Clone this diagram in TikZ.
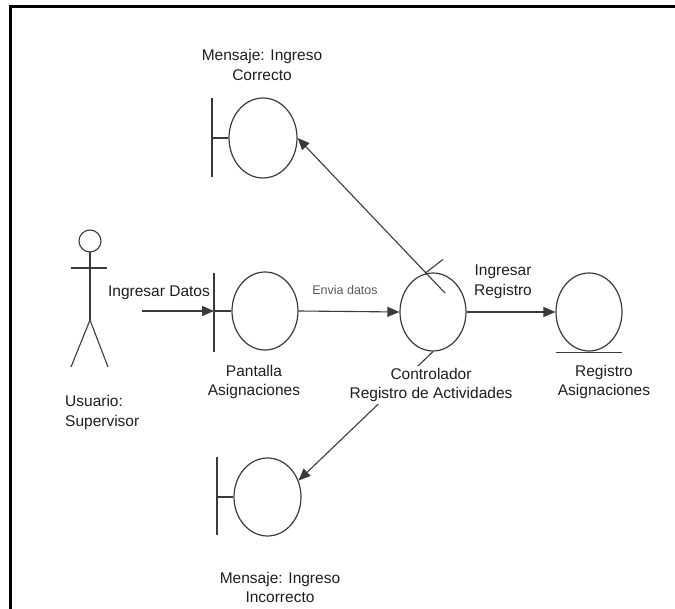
\documentclass[tikz,border=0pt]{standalone}
\usepackage{fontspec}
\setmainfont{Liberation Sans}
\usetikzlibrary{arrows.meta,shapes.geometric,calc}
\definecolor{ink}{HTML}{3A3A3A}
\definecolor{txt}{HTML}{1E1E1E}
\tikzset{
  robust/.style={ellipse, draw=ink, line width=1.2pt, minimum width=66pt, minimum height=78pt, inner sep=0pt},
  conn/.style={draw=ink, line width=1.1pt},
  arr/.style={conn, -{Triangle[length=12pt,width=10pt]}},
  lbl/.style={font=\fontsize{15.5}{19.5}\selectfont, text=txt, align=center, inner sep=1pt},
  smalllbl/.style={font=\fontsize{12.5}{15}\selectfont, text=black!65, inner sep=1pt},
  frame/.style={line width=3pt, draw=black}
}
\begin{document}
\begin{tikzpicture}[x=1pt, y=-1pt]
\useasboundingbox (0,0) rectangle (675,609);
% outer frame (top and left edges)
\draw[frame] (675,7) -- (10.5,7) -- (10.5,609);

% actor
\coordinate (actor) at (90,241);
\draw[conn] (actor) ellipse [x radius=11, y radius=11];
\draw[conn] ($(actor)+(-19,27)$) -- ($(actor)+(17,27)$);
\draw[conn] ($(actor)+(0,11)$) -- ($(actor)+(0,79)$) coordinate (hip);
\draw[conn] ($(hip)+(-19,47)$) -- (hip) -- ($(hip)+(18,47)$);
\node[lbl, align=left, anchor=west] (actorlbl) at (64,412.5) {Usuario:\\Supervisor};

% boundary: Pantalla Asignaciones
\node[robust] (pantalla) at (265,311) {};
\coordinate (pbar) at (214,311);
\draw[conn] ($(pbar)+(0,-38)$) -- ($(pbar)+(0,41)$);
\draw[conn] (pbar) -- (pantalla.west);
\node[lbl] (pantallalbl) at (254,382) {Pantalla\\Asignaciones};

% boundary: message ok
\node[robust, minimum width=68pt, minimum height=80pt] (okmsg) at (263,138) {};
\coordinate (obar) at (212,138);
\draw[conn] ($(obar)+(0,-40)$) -- ($(obar)+(0,39)$);
\draw[conn] (obar) -- (okmsg.west);
\node[lbl] (oklbl) at (262,65) {Mensaje: Ingreso\\Correcto};

% boundary: message error
\node[robust, minimum width=67pt] (errmsg) at (267.5,497) {};
\coordinate (ebar) at (217,497);
\draw[conn] ($(ebar)+(0,-40)$) -- ($(ebar)+(0,38)$);
\draw[conn] (ebar) -- (errmsg.west);
\node[lbl] (errlbl) at (280,587.5) {Mensaje: Ingreso\\Incorrecto};

% controller
\node[robust] (ctrl) at (433,312) {};
\draw[conn] ($(ctrl.north)+(-8,1)$) -- ($(ctrl.north)+(10,-13)$);

% entity: Registro Asignaciones
\node[robust] (entidad) at (589,312) {};
\draw[conn] ($(entidad.south)+(-33,1)$) -- ($(entidad.south)+(33,1)$);
\node[lbl] (entidadlbl) at (604,382) {Registro\\Asignaciones};

% connectors
\coordinate (datosin) at (142,311);
\draw[arr] (datosin) -- (pbar);
\node[lbl] (datoslbl) at (159,293) {Ingresar Datos};

\draw[arr] (pantalla.east) -- (ctrl.west);
\node[smalllbl] (envialbl) at (345,290) {Envia datos};

\draw[arr] (ctrl.east) -- (entidad.west);
\node[lbl] (reglbl) at (503,282) {Ingresar\\Registro};

\draw[arr] ($(ctrl)+(12,-19)$) -- (okmsg.east);
\draw[arr] (ctrl.south) -- (errmsg.28);

% controller label, drawn over the connector that passes beneath it
\node[lbl, fill=white, inner sep=2pt] (ctrllbl) at (431,385) {Controlador\\Registro de Actividades};
\end{tikzpicture}
\end{document}
